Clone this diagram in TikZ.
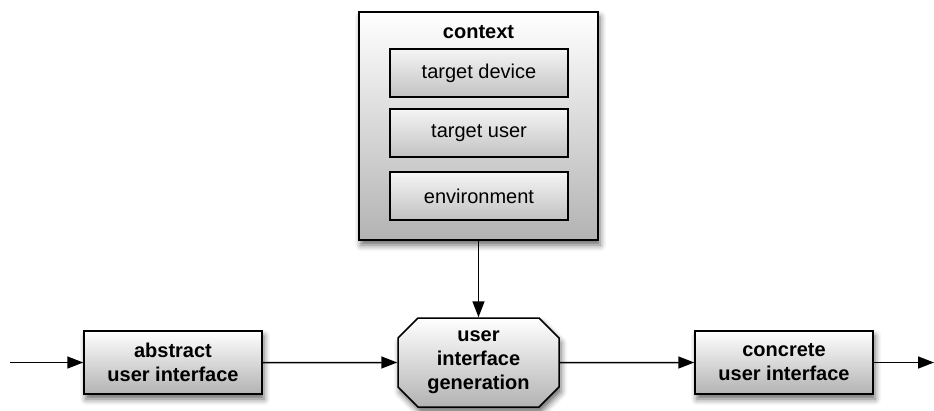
\documentclass[tikz,border=0pt]{standalone}
\usepackage{fontspec}
\setmainfont{Liberation Sans}
\usetikzlibrary{arrows.meta,shapes.misc,shadows.blur}
\begin{document}
\begin{tikzpicture}[x=1pt,y=-1pt,
  font=\fontsize{20}{24}\selectfont,
  box/.style={draw=black, line width=1.5pt, align=center, inner sep=0pt,
    top color=white, bottom color=black!30,
    blur shadow={shadow xshift=2pt, shadow yshift=-5pt, shadow blur radius=6pt, shadow opacity=60}},
  ctxitem/.style={draw=black, line width=1.3pt, align=center, inner sep=0pt,
    minimum width=178pt, minimum height=48pt,
    top color=black!4, bottom color=black!24},
  flow/.style={line width=1.5pt, -{Triangle[length=16pt,width=12pt]}}]
  \useasboundingbox (0,0) rectangle (934,410);

  % context block with its three parts
  \node[box, minimum width=239pt, minimum height=228pt] (ctx) at (478.5,126) {};
  \node[font=\fontsize{20}{24}\selectfont\bfseries] (ctxlabel) at (478.5,32) {context};
  \node[ctxitem] (device) at (479,73) {target device};
  \node[ctxitem] (tuser) at (479,133) {target user};
  \node[ctxitem] (env) at (479,196) {environment};

  % processing chain
  \node[box, font=\fontsize{20}{24}\selectfont\bfseries, chamfered rectangle,
    chamfered rectangle xsep=10pt, chamfered rectangle ysep=10pt,
    minimum width=161pt, minimum height=89pt] (gen) at (478.5,362.5)
    {user\\interface\\generation};
  \node[box, font=\fontsize{20}{24}\selectfont\bfseries,
    minimum width=178pt, minimum height=63pt] (aui) at (173,362.5)
    {abstract\\user interface};
  \node[box, font=\fontsize{20}{24}\selectfont\bfseries,
    minimum width=178pt, minimum height=63pt] (cui) at (784,362.5)
    {concrete\\user interface};

  \coordinate (in) at (10,362.5);
  \coordinate (out) at (934,362.5);

  \draw[flow] (in) -- (aui);
  \draw[flow] (aui) -- (gen);
  \draw[flow] (gen) -- (cui);
  \draw[flow] (cui) -- (out);
  \draw[flow] (ctx.south) -- (gen.north);
\end{tikzpicture}
\end{document}
